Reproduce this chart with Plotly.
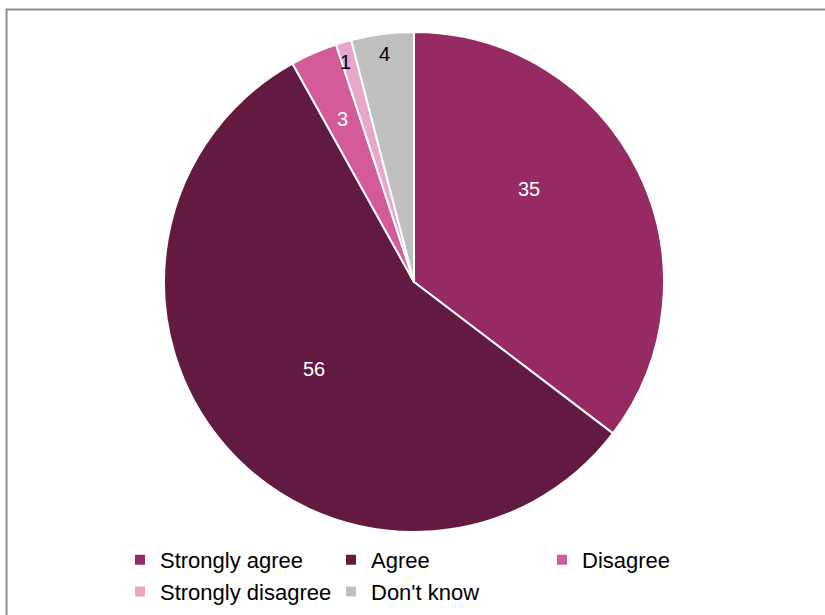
import math
import plotly.graph_objects as go

categories = ["Strongly agree", "Agree", "Disagree", "Strongly disagree", "Don't know"]
values = [35, 56, 3, 1, 4]
colors = ["#952B62", "#621A40", "#D25B98", "#E8A6C9", "#BFBFBF"]
label_colors = ["white", "white", "white", "black", "black"]

# label placement style (fraction of radius, angular offset in degrees)
label_r = [0.59, 0.53, 0.71, 0.92, 0.92]
label_dang = [-12.5, 0, 0, -1, 0]

W, H = 825, 615
ML, MR, MT, MB = 3, 0, 32, 83

fig = go.Figure(go.Pie(
    labels=categories, values=values, sort=False, direction="clockwise",
    rotation=0, marker=dict(colors=colors, line=dict(color="white", width=2)),
    textinfo="none", hoverinfo="label+value", showlegend=True,
))

pw, ph = W - ML - MR, H - MT - MB
R = min(pw, ph) / 2
total = sum(values)
cum = 0
annotations = []
for i, v in enumerate(values):
    mid = (cum + v / 2) / total * 360 + label_dang[i]
    cum += v
    a = math.radians(mid)
    dx = label_r[i] * R * math.sin(a)
    dy = label_r[i] * R * math.cos(a)
    annotations.append(dict(
        x=0.5 + dx / pw, y=0.5 + dy / ph, xref="paper", yref="paper",
        xanchor="center", yanchor="middle",
        text=str(v), showarrow=False,
        font=dict(family="Liberation Sans, Arial, sans-serif", size=20, color=label_colors[i]),
    ))

fig.update_layout(
    width=W, height=H,
    margin=dict(l=ML, r=MR, t=MT, b=MB, autoexpand=False),
    paper_bgcolor="white", plot_bgcolor="white",
    font=dict(family="Liberation Sans, Arial, sans-serif", color="black"),
    annotations=annotations,
    legend=dict(
        orientation="h", x=(120 - ML) / pw, xanchor="left",
        y=1 - (539 - MT) / ph, yanchor="top",
        entrywidth=166, entrywidthmode="pixels",
        font=dict(size=22, color="black"), traceorder="normal",
        bgcolor="rgba(0,0,0,0)",
    ),
    shapes=[dict(
        type="rect", xref="paper", yref="paper",
        x0=(6.5 - ML) / pw, x1=1.05, y0=-0.2, y1=1 - (9.5 - MT) / ph,
        line=dict(color="#8C8C8C", width=2), fillcolor="rgba(0,0,0,0)", layer="below",
    )],
)

fig.write_html("out.html", config={"displayModeBar": False},
               post_script="document.body.style.margin='0';")
